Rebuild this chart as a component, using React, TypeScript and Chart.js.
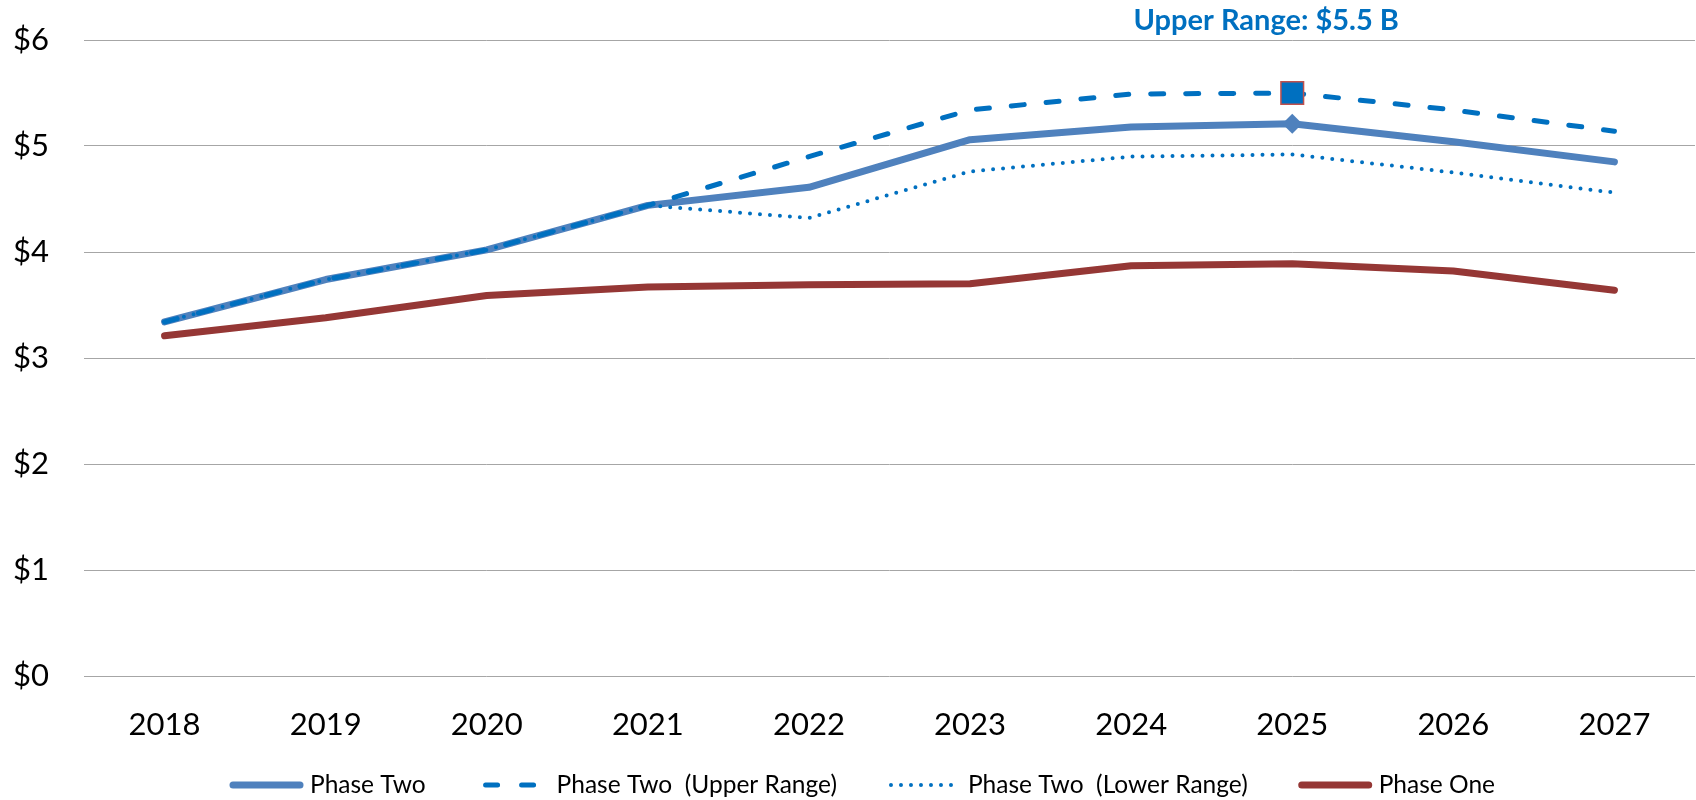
import { useEffect, useRef } from 'react';
import { Chart, registerables } from 'chart.js';

Chart.register(...registerables);

// Annual totals in billions of dollars
const years = ['2018', '2019', '2020', '2021', '2022', '2023', '2024', '2025', '2026', '2027'];
const phaseTwo = [3.34, 3.74, 4.02, 4.44, 4.61, 5.06, 5.18, 5.21, 5.04, 4.85];
const phaseTwoUpper = [3.34, 3.74, 4.02, 4.44, 4.9, 5.34, 5.49, 5.5, 5.34, 5.14];
const phaseTwoLower = [3.34, 3.74, 4.02, 4.44, 4.32, 4.76, 4.9, 4.92, 4.75, 4.56];
const phaseOne = [3.21, 3.38, 3.59, 3.67, 3.69, 3.7, 3.87, 3.89, 3.82, 3.64];
const yTicks = [0, 1, 2, 3, 4, 5, 6];

// Year whose upper-range value is called out
const peakIndex = 7;
const peakLabel = `Upper Range: $${phaseTwoUpper[peakIndex]} B`;

const FONT = 'Lato, "Open Sans", sans-serif';
const BLUE = '#4F81BD';
const RANGE_BLUE = '#0070C0';
const RED = '#953735';

const markAt = (size: number) => years.map((_, i) => (i === peakIndex ? size : 0));

// Writes the callout above the peak of the upper range
const peakCallout = {
  id: 'peakCallout',
  afterDatasetsDraw(chart: any) {
    const { ctx, chartArea, scales } = chart;
    const x = scales.x.getPixelForValue(peakIndex);
    ctx.save();
    ctx.font = `bold 29px ${FONT}`;
    ctx.fillStyle = RANGE_BLUE;
    ctx.textAlign = 'center';
    ctx.textBaseline = 'alphabetic';
    ctx.fillText(peakLabel, x - 26, chartArea.top - 10);
    ctx.restore();
  },
};

// Legend row of line samples along the bottom edge
const LEGEND_SAMPLE = 75;
const LEGEND_TEXT_GAP = 6;
const LEGEND_ITEM_GAP = 50;
const LEGEND_FONT = `24.5px ${FONT}`;

const lineLegend = {
  id: 'lineLegend',
  afterDraw(chart: any) {
    const { ctx, width, height } = chart;
    const datasets = chart.data.datasets;
    ctx.save();
    ctx.font = LEGEND_FONT;
    const widths = datasets.map(
      (ds: any) => LEGEND_SAMPLE + LEGEND_TEXT_GAP + ctx.measureText(ds.label).width
    );
    const total =
      widths.reduce((a: number, b: number) => a + b, 0) + LEGEND_ITEM_GAP * (datasets.length - 1);
    let x = width / 2 - total / 2 + 14;
    const y = height - 15;
    datasets.forEach((ds: any, i: number) => {
      const dashed = ds.borderDash && ds.borderDash[0] > 0;
      const dotted = ds.borderDash && ds.borderDash[0] === 0;
      ctx.beginPath();
      ctx.strokeStyle = ds.borderColor;
      ctx.lineWidth = ds.borderWidth;
      ctx.lineCap = ds.borderCapStyle || 'butt';
      ctx.setLineDash(dashed ? [12, 24] : ds.borderDash || []);
      const start = dashed ? x + 10 : dotted ? x + 4 : x + 4;
      const end = dashed ? x + 62 : x + LEGEND_SAMPLE - 4;
      ctx.moveTo(start, y);
      ctx.lineTo(end, y);
      ctx.stroke();
      ctx.setLineDash([]);
      ctx.fillStyle = '#000';
      ctx.textAlign = 'left';
      ctx.textBaseline = 'middle';
      ctx.fillText(ds.label, x + LEGEND_SAMPLE + LEGEND_TEXT_GAP, y);
      x += widths[i] + LEGEND_ITEM_GAP;
    });
    ctx.restore();
  },
};

export default function App() {
  const canvasRef = useRef<HTMLCanvasElement | null>(null);

  useEffect(() => {
    document.body.style.margin = '0';
    const canvas = canvasRef.current;
    if (!canvas) return;

    const chart = new Chart(canvas, {
      type: 'line',
      data: {
        labels: years,
        datasets: [
          {
            label: 'Phase Two',
            data: phaseTwo,
            borderColor: BLUE,
            backgroundColor: BLUE,
            borderWidth: 7,
            borderCapStyle: 'round',
            borderJoinStyle: 'round',
            pointStyle: 'rectRot',
            pointRadius: markAt(10),
            pointHoverRadius: markAt(10),
            pointBorderWidth: 0,
            order: 3,
          },
          {
            label: 'Phase Two  (Upper Range)',
            data: phaseTwoUpper,
            borderColor: RANGE_BLUE,
            backgroundColor: RANGE_BLUE,
            borderWidth: 5,
            borderDash: [13, 22],
            borderCapStyle: 'round',
            borderJoinStyle: 'round',
            pointStyle: 'rect',
            pointRadius: markAt(16),
            pointHoverRadius: markAt(16),
            pointBorderColor: '#C0504D',
            pointBorderWidth: 1.5,
            order: 1,
          },
          {
            label: 'Phase Two  (Lower Range)',
            data: phaseTwoLower,
            borderColor: RANGE_BLUE,
            backgroundColor: RANGE_BLUE,
            borderWidth: 4,
            borderDash: [0, 10],
            borderCapStyle: 'round',
            borderJoinStyle: 'round',
            pointRadius: 0,
            pointHoverRadius: 0,
            order: 2,
          },
          {
            label: 'Phase One',
            data: phaseOne,
            borderColor: RED,
            backgroundColor: RED,
            borderWidth: 7,
            borderCapStyle: 'round',
            borderJoinStyle: 'round',
            pointRadius: 0,
            pointHoverRadius: 0,
            order: 4,
          },
        ],
      },
      options: {
        responsive: false,
        animation: false,
        layout: { padding: { top: 40, right: 1, bottom: 56, left: 0 } },
        scales: {
          x: {
            type: 'category',
            offset: true,
            grid: { display: false, drawTicks: false },
            border: { display: false },
            ticks: {
              color: '#000',
              font: { family: FONT, size: 31 },
              padding: 30,
              maxRotation: 0,
            },
            afterFit(scale: any) {
              scale.height = 68;
            },
          },
          y: {
            min: 0,
            max: 6,
            afterBuildTicks(scale: any) {
              scale.ticks = yTicks.map((v) => ({ value: v }));
            },
            grid: { color: '#A6A6A6', lineWidth: 1, drawTicks: false },
            border: { display: false },
            ticks: {
              color: '#000',
              font: { family: FONT, size: 31 },
              padding: 35,
              callback: (v: any) => `$${v}`,
            },
            afterFit(scale: any) {
              scale.width = 84;
              scale.paddingTop = 0;
              scale.paddingBottom = 0;
            },
          },
        },
        plugins: {
          legend: { display: false },
          tooltip: { enabled: false },
        },
      },
      plugins: [peakCallout, lineLegend],
    });

    return () => chart.destroy();
  }, []);

  return (
    <div style={{ width: 1696, height: 800 }}>
      <canvas ref={canvasRef} width={1696} height={800} />
    </div>
  );
}
